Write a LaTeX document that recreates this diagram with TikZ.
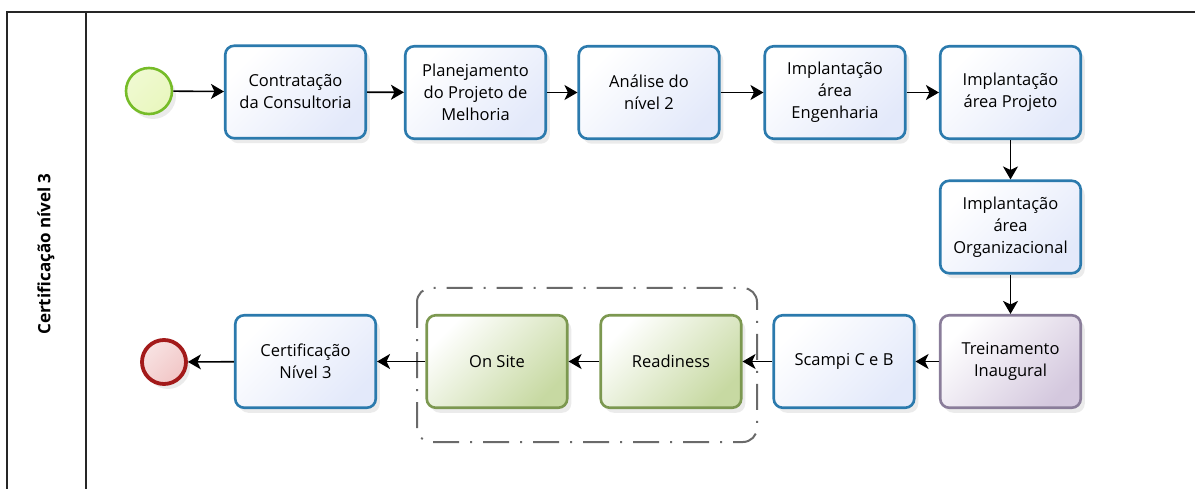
\documentclass[tikz,border=0pt]{standalone}
\usepackage{fontspec}
\setmainfont{Open Sans}
\usetikzlibrary{arrows.meta,shadows}
\definecolor{bluebd}{HTML}{2B7AAD}
\definecolor{bluefill}{HTML}{E3E9FA}
\definecolor{greenbd}{HTML}{7C9850}
\definecolor{greenfill}{HTML}{C7D9A2}
\definecolor{purplebd}{HTML}{8A7D9A}
\definecolor{purplefill}{HTML}{D4C8DE}
\definecolor{startbd}{HTML}{76BC28}
\definecolor{startfill}{HTML}{E9F7BE}
\definecolor{endbd}{HTML}{A31A1A}
\definecolor{endfill}{HTML}{F1C6C6}
\definecolor{groupbd}{HTML}{6A6A6A}
\begin{document}
\begin{tikzpicture}[x=1pt,y=-1pt,
  softshadow/.style={general shadow={fill=black, opacity=0.08, shadow xshift=4pt, shadow yshift=-5pt}},
  task/.style={rectangle, rounded corners=9pt, minimum width=140.5pt, minimum height=92.5pt,
    line width=2.6pt, align=center, inner sep=0pt, softshadow,
    font=\fontsize{16.5}{22}\selectfont},
  bluetask/.style={task, draw=bluebd, top color=white, bottom color=bluefill, shading angle=45},
  greentask/.style={task, draw=greenbd, top color=white, bottom color=greenfill, shading angle=45},
  purpletask/.style={task, draw=purplebd, top color=white, bottom color=purplefill, shading angle=45},
  startev/.style={circle, minimum size=46pt, inner sep=0pt, line width=2.6pt, draw=startbd,
    top color=startfill!70!white, bottom color=startfill, shading angle=45, softshadow},
  endev/.style={circle, minimum size=44pt, inner sep=0pt, line width=3.8pt, draw=endbd,
    top color=endfill!50!white, bottom color=endfill, shading angle=45, softshadow},
  flow/.style={line width=1.6pt, -{Stealth[length=13pt, width=15pt, inset=3.5pt]}},
  pool/.style={line width=1.4pt, draw=black!85},
  grp/.style={line width=2pt, draw=groupbd, rounded corners=14pt,
    dash pattern=on 26pt off 11pt on 2pt off 11pt}
]
\useasboundingbox (0,0) rectangle (1195,489);
% pool and lane
\draw[pool] (1195,12) -- (7,12) -- (7,489);
\draw[pool] (86,12) -- (86,489);
\node[rotate=90, font=\fontsize{17}{19}\selectfont\bfseries] (lane) at (46,254) {Certificação nível 3};

% group
\draw[grp] (417,288) rectangle (757,442);

% events
\node[startev] (start) at (149,91) {};
\node[endev] (end) at (164,362) {};

% tasks
\node[bluetask] (contr) at (295.5,92) {Contratação\\da Consultoria};
\node[bluetask] (plan) at (475.5,92.5) {Planejamento\\do Projeto de\\Melhoria};
\node[bluetask] (anal) at (649,92.5) {Análise do\\nível 2};
\node[bluetask] (eng) at (835,92.5) {Implantação\\área\\Engenharia};
\node[bluetask] (proj) at (1010.5,92.5) {Implantação\\área Projeto};
\node[bluetask] (org) at (1010.5,227) {Implantação\\área\\Organizacional};
\node[purpletask] (trein) at (1010.5,361.5) {Treinamento\\Inaugural};
\node[bluetask] (scampi) at (844,361.5) {Scampi C e B};
\node[greentask] (ready) at (671,361.5) {Readiness};
\node[greentask] (onsite) at (497,361.5) {On Site};
\node[bluetask] (cert) at (305.5,361.5) {Certificação\\Nível 3};

% flows
\draw[flow] (start) -- (contr);
\draw[flow] (contr) -- (plan);
\draw[flow] (plan) -- (anal);
\draw[flow] (anal) -- (eng);
\draw[flow] (eng) -- (proj);
\draw[flow] (proj) -- (org);
\draw[flow] (org) -- (trein);
\draw[flow] (trein) -- (scampi);
\draw[flow] (scampi) -- (ready);
\draw[flow] (ready) -- (onsite);
\draw[flow] (onsite) -- (cert);
\draw[flow] (cert) -- (end);
\end{tikzpicture}
\end{document}
